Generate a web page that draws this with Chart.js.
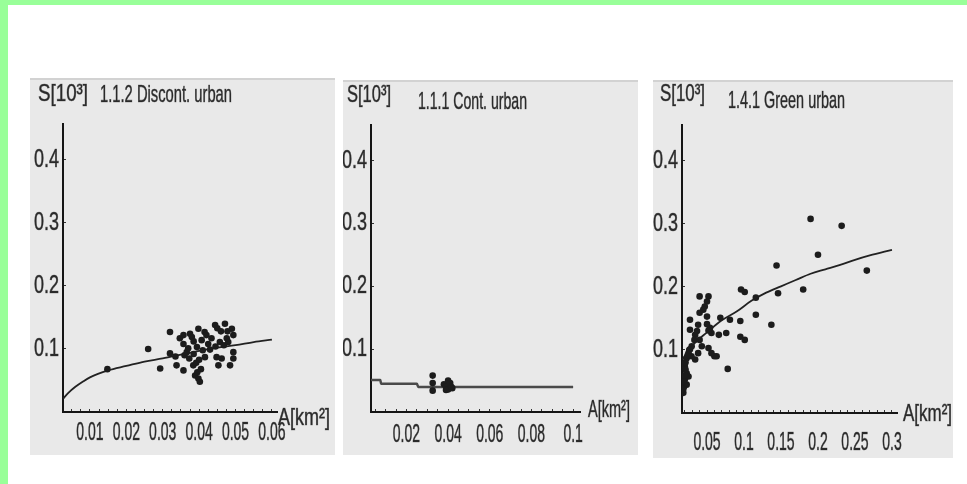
<!DOCTYPE html>
<html>
<head>
<meta charset="utf-8">
<script src="https://cdn.jsdelivr.net/npm/chart.js@4.4.1/dist/chart.umd.min.js"></script>
<style>
    html, body { margin: 0; padding: 0; background: #fff; }
    body { width: 967px; height: 484px; position: relative; overflow: hidden; }
    .strip { position: absolute; background: #99ff99; }
    .panel { position: absolute; background: #e9e9e9; border-top: 2px solid #d2d2d2; box-sizing: border-box; }
    .panel canvas { position: absolute; left: 0; top: 0; }
</style>
</head>
<body>
<div class="strip" style="left:0;top:0;width:967px;height:5px"></div>
<div class="strip" style="left:0;top:0;width:8px;height:484px"></div>

<div class="panel" style="left:30px;top:78px;width:305px;height:377px"><canvas id="discChart" width="305" height="377"></canvas></div>
<div class="panel" style="left:343px;top:80px;width:295px;height:375px"><canvas id="contChart" width="295" height="375"></canvas></div>
<div class="panel" style="left:653px;top:80px;width:300px;height:378px"><canvas id="greenChart" width="300" height="378"></canvas></div>

<script>
// axis ticks
const yTickValues = [0.1, 0.2, 0.3, 0.4];
const yTickLabels = ['0.1', '0.2', '0.3', '0.4'];
const discTickValues = [0.01, 0.02, 0.03, 0.04, 0.05, 0.06];
const discTickLabels = ['0.01', '0.02', '0.03', '0.04', '0.05', '0.06'];
const contTickValues = [0.02, 0.04, 0.06, 0.08, 0.1];
const contTickLabels = ['0.02', '0.04', '0.06', '0.08', '0.1'];
const greenTickValues = [0.05, 0.1, 0.15, 0.2, 0.25, 0.3];
const greenTickLabels = ['0.05', '0.1', '0.15', '0.2', '0.25', '0.3'];

// 1.1.2 Discont. urban : area A [km2] vs S [10^3]
const discA = [0.0148, 0.026, 0.0293, 0.032, 0.032, 0.0335, 0.0338, 0.0347, 0.0357, 0.0357, 0.0357, 0.036, 0.0366, 0.037,
    0.0373, 0.0375, 0.038, 0.0384, 0.0385, 0.0385, 0.0389, 0.0392, 0.0394, 0.0395, 0.0398, 0.0398, 0.040, 0.0402, 0.0405,
    0.0407, 0.041, 0.0415, 0.0416, 0.042, 0.0425, 0.043, 0.0434, 0.0444, 0.0445, 0.0448, 0.045, 0.0453, 0.0457, 0.046,
    0.0462, 0.0468, 0.0471, 0.0476, 0.0478, 0.048, 0.0485, 0.049, 0.0494, 0.0494, 0.0494];
const discS = [0.068, 0.100, 0.069, 0.127, 0.093, 0.088, 0.074, 0.117, 0.122, 0.108, 0.066, 0.090, 0.095, 0.101,
    0.085, 0.124, 0.119, 0.074, 0.092, 0.112, 0.058, 0.078, 0.103, 0.063, 0.053, 0.132, 0.083, 0.048, 0.068,
    0.114, 0.098, 0.127, 0.087, 0.122, 0.108, 0.099, 0.117, 0.138, 0.104, 0.087, 0.133, 0.074, 0.111, 0.128,
    0.085, 0.106, 0.140, 0.117, 0.128, 0.111, 0.074, 0.132, 0.122, 0.095, 0.085];
const discFitA = [0.0026, 0.004, 0.006, 0.008, 0.01, 0.015, 0.02, 0.025, 0.03, 0.035, 0.04, 0.045, 0.05, 0.055, 0.06];
const discFitS = [0.021, 0.030, 0.040, 0.048, 0.055, 0.066, 0.073, 0.080, 0.085, 0.091, 0.097, 0.102, 0.106, 0.111, 0.115];

// 1.1.1 Cont. urban
const contA = [0.0326, 0.0326, 0.0326, 0.038, 0.039, 0.039, 0.040, 0.040, 0.041, 0.0415, 0.042];
const contS = [0.058, 0.046, 0.034, 0.044, 0.040, 0.035, 0.050, 0.036, 0.046, 0.040, 0.038];
const contFitA = [0.003, 0.0075, 0.0078, 0.025, 0.0257, 0.1];
const contFitS = [0.051, 0.051, 0.045, 0.045, 0.040, 0.040];

// 1.4.1 Green urban
const greenA = [0.190, 0.232, 0.200, 0.266, 0.144, 0.180, 0.146, 0.137, 0.116, 0.116, 0.096, 0.101, 0.095, 0.095, 0.101,
    0.081, 0.076, 0.078, 0.068, 0.066, 0.063, 0.060, 0.056, 0.054, 0.052, 0.050, 0.047, 0.040, 0.045, 0.050, 0.050,
    0.052, 0.052, 0.040, 0.038, 0.0365, 0.034, 0.033, 0.0293, 0.027, 0.027, 0.027, 0.025, 0.034, 0.040, 0.043, 0.0225,
    0.020, 0.0225, 0.020, 0.019, 0.018, 0.0225, 0.021, 0.025, 0.019, 0.029, 0.038, 0.056, 0.018, 0.020, 0.019, 0.021,
    0.024, 0.026];
const greenS = [0.308, 0.297, 0.251, 0.226, 0.234, 0.196, 0.190, 0.140, 0.156, 0.183, 0.196, 0.192, 0.146, 0.121, 0.116,
    0.148, 0.127, 0.070, 0.151, 0.124, 0.090, 0.090, 0.127, 0.135, 0.185, 0.177, 0.169, 0.185, 0.164, 0.153, 0.141,
    0.131, 0.103, 0.159, 0.140, 0.130, 0.124, 0.116, 0.106, 0.148, 0.132, 0.101, 0.095, 0.085, 0.116, 0.106, 0.087,
    0.074, 0.063, 0.053, 0.042, 0.032, 0.045, 0.069, 0.058, 0.079, 0.090, 0.095, 0.095, 0.038, 0.060, 0.050, 0.080,
    0.092, 0.100];
const greenFitA = [0.017, 0.025, 0.035, 0.05, 0.07, 0.09, 0.11, 0.13, 0.15, 0.17, 0.19, 0.21, 0.23, 0.25, 0.27, 0.30];
const greenFitS = [0.085, 0.100, 0.113, 0.128, 0.147, 0.161, 0.178, 0.191, 0.201, 0.211, 0.221, 0.228, 0.235, 0.243, 0.250, 0.259];

function toPoints(xs, ys) {
    return xs.map((x, i) => ({ x: x, y: ys[i] }));
}

// minor tick marks along an axis
function tickSteps(from, to, step) {
    const out = [];
    for (let v = from; v <= to + 1e-9; v += step) out.push(+v.toFixed(5));
    return out;
}

// the scanned figure uses a very narrow typeface, so text is squeezed sideways
function squeezed(ctx, text, x, y, k, align) {
    ctx.save();
    ctx.translate(x, y);
    ctx.scale(k, 1);
    ctx.textAlign = align;
    ctx.strokeText(text, 0, 0);
    ctx.fillText(text, 0, 0);
    ctx.restore();
}

function fitted(ctx, text, x, y, width) {
    squeezed(ctx, text, x, y, width / ctx.measureText(text).width, 'left');
}

const panelText = {
    id: 'panelText',
    afterDraw(chart, args, opts) {
        const ctx = chart.ctx;
        const area = chart.chartArea;
        const xs = chart.scales.x;
        const ys = chart.scales.y;
        ctx.save();
        ctx.fillStyle = '#2a2a2a';
        ctx.strokeStyle = 'rgba(42,42,42,0.6)';
        ctx.lineWidth = 0.7;
        ctx.textBaseline = 'middle';
        ctx.font = '25px "Liberation Sans", Arial, sans-serif';
        yTickValues.forEach((v, i) => {
            squeezed(ctx, yTickLabels[i], area.left - 4, ys.getPixelForValue(v), 0.72, 'right');
        });
        opts.xTicks.forEach((v, i) => {
            squeezed(ctx, opts.xLabels[i], xs.getPixelForValue(v), area.bottom + opts.xGap, 0.56, 'center');
        });
        ctx.font = '24px "Liberation Sans", Arial, sans-serif';
        fitted(ctx, 'S[10³]', area.left + opts.s[0], area.top + opts.s[1], opts.s[2]);
        fitted(ctx, opts.title, area.left + opts.t[0], area.top + opts.t[1], opts.t[2]);
        fitted(ctx, 'A[km²]', area.right + opts.a[0], area.bottom + opts.a[1], opts.a[2]);
        ctx.restore();
    }
};

function makePanel(id, cfg) {
    const ctx = document.getElementById(id).getContext('2d');
    const axisTicks = {
        display: true,
        drawOnChartArea: false,
        drawTicks: true,
        tickLength: -3,
        tickColor: '#333',
        tickWidth: 1
    };
    return new Chart(ctx, {
        type: 'scatter',
        data: {
            datasets: [
                {
                    data: cfg.points,
                    backgroundColor: '#1c1c1c',
                    borderWidth: 0,
                    pointRadius: 3.3,
                    pointHoverRadius: 3.3,
                    order: 1
                },
                {
                    data: cfg.fit,
                    showLine: true,
                    borderColor: cfg.lineColor,
                    borderWidth: cfg.lineWidth,
                    pointRadius: 0,
                    tension: cfg.tension,
                    cubicInterpolationMode: 'monotone',
                    order: 2
                }
            ]
        },
        options: {
            responsive: false,
            animation: false,
            layout: {
                padding: { left: 0, top: cfg.top, right: cfg.right, bottom: 0 }
            },
            plugins: {
                legend: { display: false },
                tooltip: { enabled: false },
                panelText: cfg.text
            },
            scales: {
                x: {
                    type: 'linear',
                    min: cfg.xMin,
                    max: cfg.xMax,
                    afterFit: s => { s.height = cfg.bottom; },
                    afterBuildTicks: s => { s.ticks = cfg.xMinor.map(v => ({ value: v })); },
                    ticks: { display: false, autoSkip: false },
                    grid: axisTicks,
                    border: { display: true, color: '#151515', width: 2 }
                },
                y: {
                    type: 'linear',
                    min: 0,
                    max: 0.457,
                    afterFit: s => { s.width = cfg.left; },
                    afterBuildTicks: s => { s.ticks = yTickValues.map(v => ({ value: v })); },
                    ticks: { display: false, autoSkip: false },
                    grid: axisTicks,
                    border: { display: true, color: '#151515', width: 2 }
                }
            }
        },
        plugins: [panelText]
    });
}

makePanel('discChart', {
    points: toPoints(discA, discS),
    fit: toPoints(discFitA, discFitS),
    lineColor: '#222', lineWidth: 1.8, tension: 0.4,
    xMin: 0.0026, xMax: 0.0614,
    xMinor: tickSteps(0.005, 0.06, 0.0025),
    left: 33, top: 44, right: 58, bottom: 45,
    text: {
        xTicks: discTickValues, xLabels: discTickLabels, xGap: 21,
        s: [-25, -30, 50], t: [37, -29, 132], a: [1, 6, 52],
        title: '1.1.2 Discont. urban'
    }
});

makePanel('contChart', {
    points: toPoints(contA, contS),
    fit: toPoints(contFitA, contFitS),
    lineColor: '#4a4a4a', lineWidth: 2.5, tension: 0,
    xMin: 0.003, xMax: 0.1033,
    xMinor: tickSteps(0.005, 0.1, 0.005),
    left: 28, top: 43, right: 58, bottom: 45,
    text: {
        xTicks: contTickValues, xLabels: contTickLabels, xGap: 23,
        s: [-24, -30, 44], t: [47, -23, 109], a: [8, -2, 42],
        title: '1.1.1 Cont. urban'
    }
});

makePanel('greenChart', {
    points: toPoints(greenA, greenS),
    fit: toPoints(greenFitA, greenFitS),
    lineColor: '#222', lineWidth: 1.8, tension: 0.4,
    xMin: 0.0162, xMax: 0.3068,
    xMinor: tickSteps(0.02, 0.3, 0.01),
    left: 29, top: 43, right: 56, bottom: 47,
    text: {
        xTicks: greenTickValues, xLabels: greenTickLabels, xGap: 30,
        s: [-22, -31, 45], t: [46, -24, 117], a: [6, 1, 49],
        title: '1.4.1 Green urban'
    }
});
</script>
</body>
</html>
